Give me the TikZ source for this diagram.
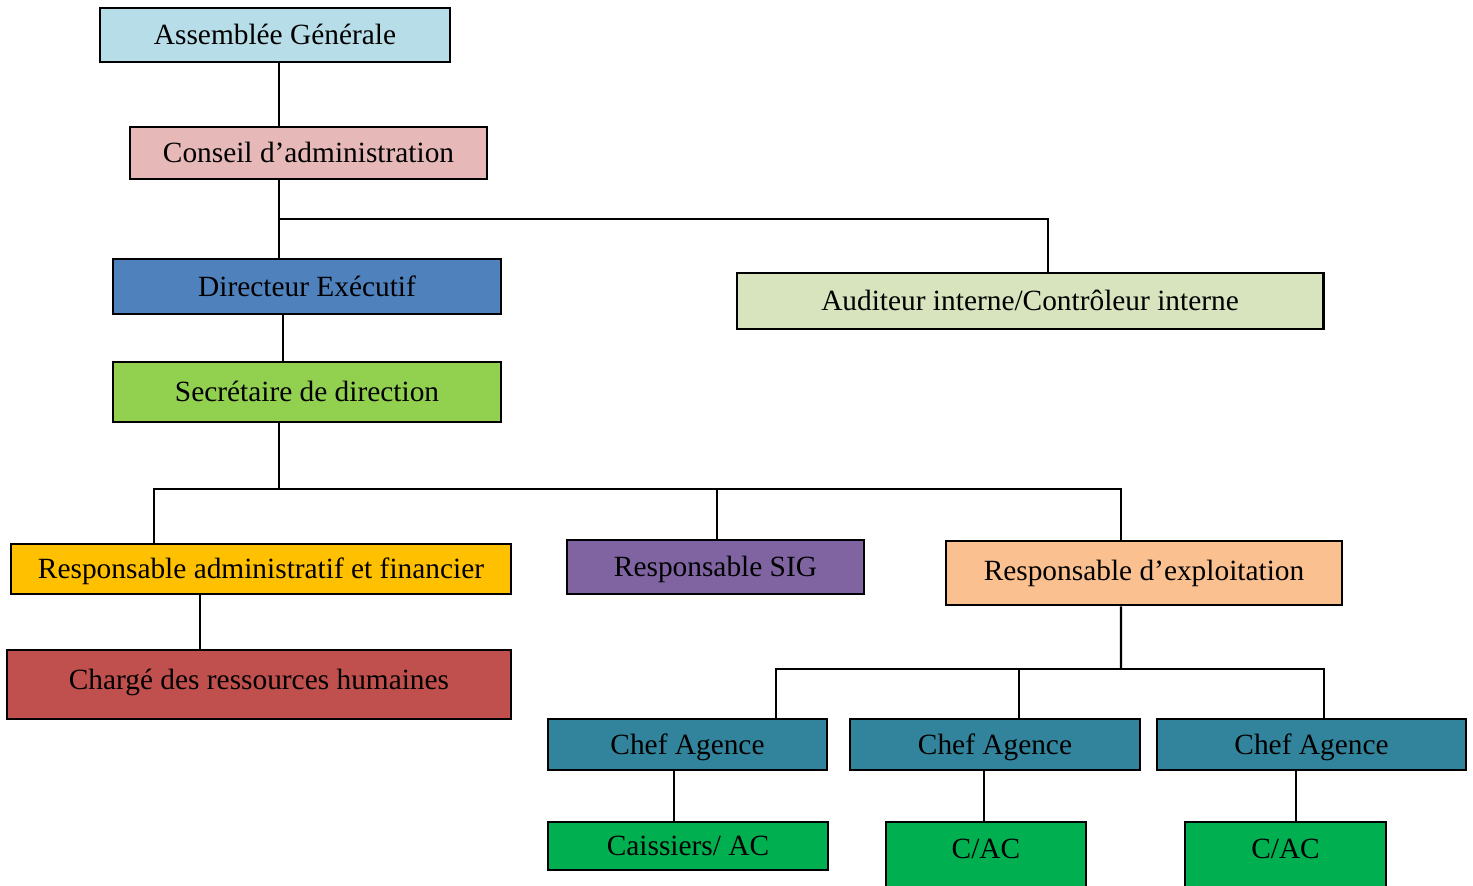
\documentclass[tikz,border=0pt]{standalone}
\usepackage{fontspec}
\setmainfont{Liberation Serif}
\usepackage{tikz}
\usepackage{xcolor}
\usetikzlibrary{calc}
\definecolor{agcol}{HTML}{B7DEE8}
\definecolor{cacol}{HTML}{E6B9B8}
\definecolor{decol}{HTML}{4F81BD}
\definecolor{aicol}{HTML}{D7E4BD}
\definecolor{sdcol}{HTML}{92D050}
\definecolor{rafcol}{HTML}{FFC000}
\definecolor{sigcol}{HTML}{8064A2}
\definecolor{recol}{HTML}{FAC090}
\definecolor{crhcol}{HTML}{C0504D}
\definecolor{chefcol}{HTML}{31849B}
\definecolor{caccol}{HTML}{00B050}
\begin{document}
\begin{tikzpicture}[x=0.01cm, y=-0.01cm, line width=0.6pt, box/.style={rectangle, draw, line width=0.75pt, inner sep=0pt, text height=5.6pt, text depth=0pt, font=\fontsize{8.35}{10}\selectfont}, cut box/.style={box, text depth=5.7pt}]
\useasboundingbox (0,0) rectangle (1473,885);
\node[box, fill=agcol, minimum width=3.5cm, minimum height=0.54cm] (ag) at (275,35) {Assemblée Générale};
\node[box, fill=cacol, minimum width=3.57cm, minimum height=0.52cm] (ca) at (308.5,153) {Conseil d’administration};
\node[box, fill=decol, minimum width=3.88cm, minimum height=0.55cm] (de) at (307,286.5) {Directeur Exécutif};
\node[box, fill=aicol, minimum width=5.86cm, minimum height=0.56cm] (ai) at (1030,301) {Auditeur interne/Contrôleur interne};
\node[box, fill=sdcol, minimum width=3.88cm, minimum height=0.6cm] (sd) at (307,392) {Secrétaire de direction};
\node[box, fill=rafcol, minimum width=5cm, minimum height=0.5cm] (raf) at (261,569) {Responsable administratif et financier};
\node[box, fill=sigcol, minimum width=2.97cm, minimum height=0.54cm] (sig) at (715.5,567) {Responsable SIG};
\node[box, fill=recol, minimum width=3.96cm, minimum height=0.64cm, text depth=1.2pt] (re) at (1144,573) {Responsable d’exploitation};
\node[box, fill=crhcol, minimum width=5.04cm, minimum height=0.69cm, text depth=2.8pt] (crh) at (259,684.5) {Chargé des ressources humaines};
\node[box, fill=chefcol, minimum width=2.79cm, minimum height=0.51cm] (chef1) at (687.5,744.5) {Chef Agence};
\node[box, fill=chefcol, minimum width=2.9cm, minimum height=0.51cm] (chef2) at (995,744.5) {Chef Agence};
\node[box, fill=chefcol, minimum width=3.09cm, minimum height=0.51cm] (chef3) at (1311.5,744.5) {Chef Agence};
\node[box, fill=caccol, minimum width=2.8cm, minimum height=0.48cm] (cais) at (688,846) {Caissiers/ AC};
\node[cut box, fill=caccol, minimum width=2cm, minimum height=0.74cm] (cac2) at (986,859) {C/AC};
\node[cut box, fill=caccol, minimum width=2.01cm, minimum height=0.74cm] (cac3) at (1285.5,859) {C/AC};
\coordinate (j1) at (279,219);
\coordinate (j2) at (279,489);
\coordinate (j3) at (1121,669);
% haut
\draw (ag.south -| j1) -- (ca.north -| j1);
\draw (ca.south -| j1) -- (de.north -| j1);
\draw (j1) -| ([xshift=0.18cm]ai.north);
\draw ([xshift=-0.24cm]de.south) -- ([xshift=-0.24cm]sd.north);
% services
\draw (sd.south -| j2) -- (j2);
\draw ([xshift=-1.07cm]raf.north) |- (j2) -| ([xshift=-0.23cm]re.north);
\draw ([xshift=0.015cm]sig.north) -- ([xshift=0.015cm]sig.north |- j2);
\draw ([xshift=-0.61cm]raf.south) -- ([xshift=-0.61cm]raf.south |- crh.north);
% agences
\draw ([xshift=-0.23cm]re.south) -- (j3);
\draw ([xshift=0.885cm]chef1.north) |- (j3) -| ([xshift=0.125cm]chef3.north);
\draw ([xshift=0.24cm]chef2.north) -- ([xshift=0.24cm]chef2.north |- j3);
\draw ([xshift=-0.135cm]chef1.south) -- ([xshift=-0.135cm]chef1.south |- cais.north);
\draw ([xshift=-0.11cm]chef2.south) -- ([xshift=-0.11cm]chef2.south |- cac2.north);
\draw ([xshift=-0.155cm]chef3.south) -- ([xshift=-0.155cm]chef3.south |- cac3.north);
\end{tikzpicture}
\end{document}
